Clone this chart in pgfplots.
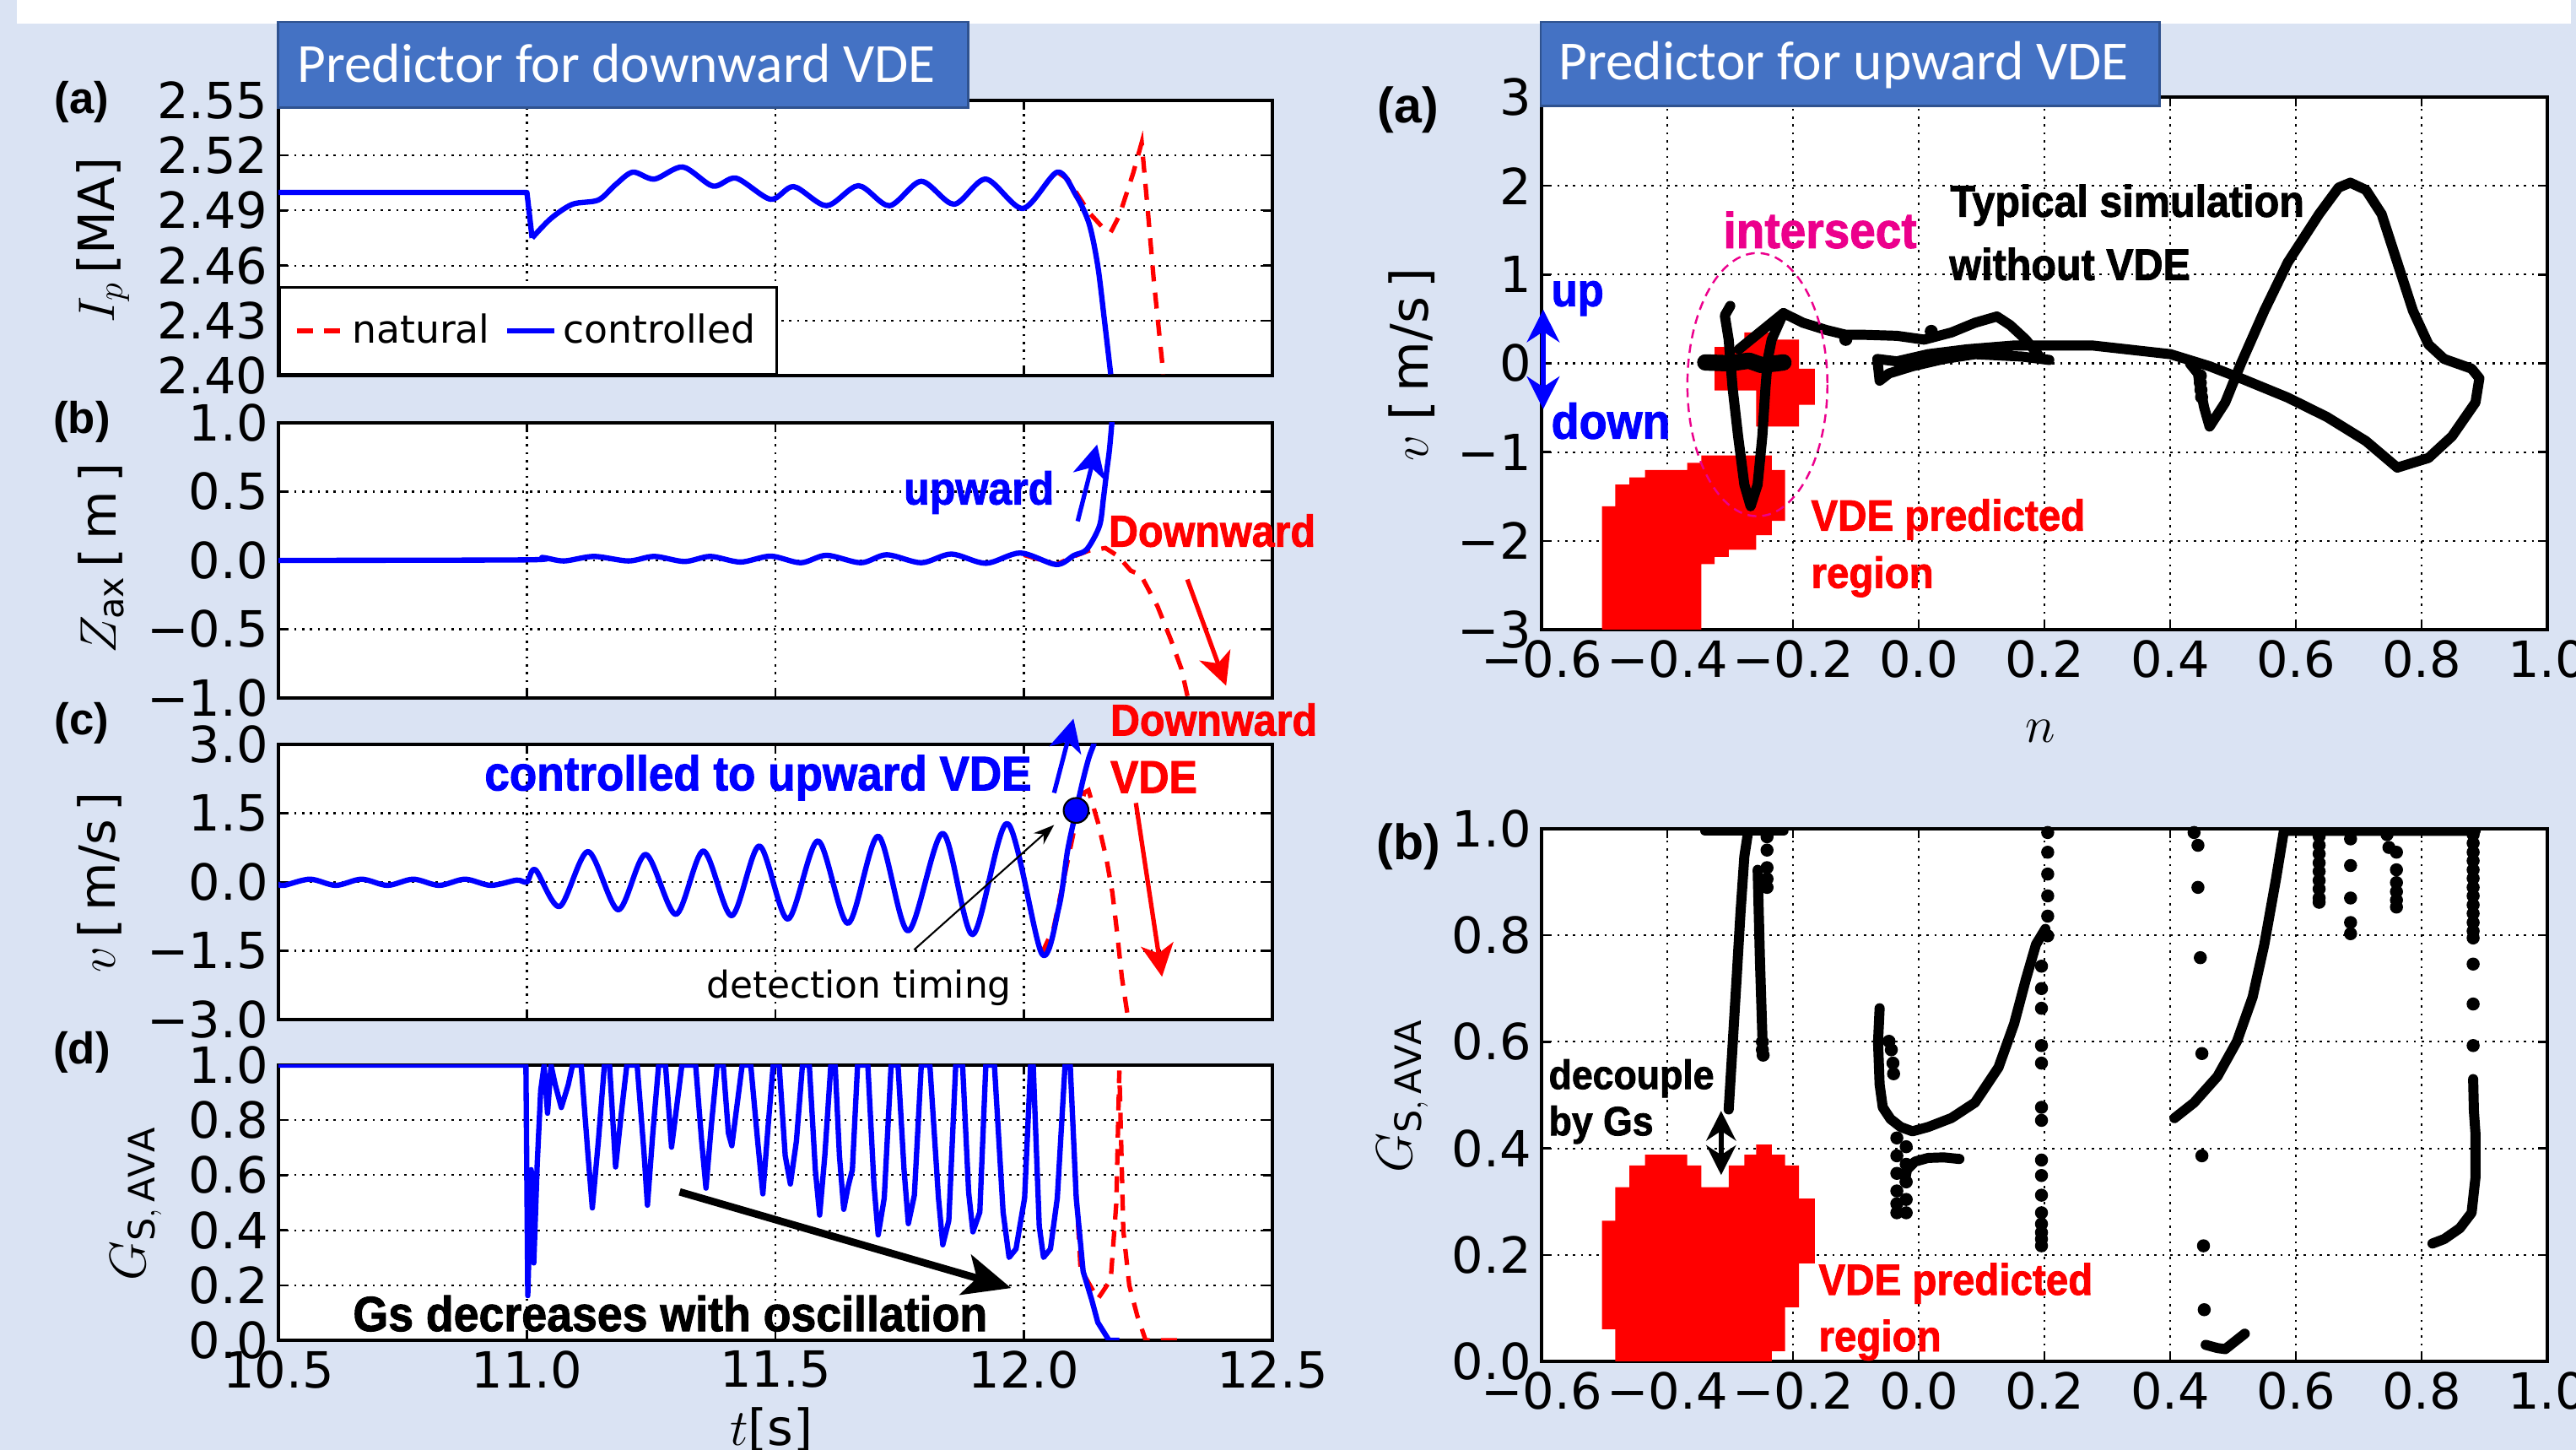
\documentclass[border=0pt]{standalone}
\usepackage{pgfplots}
\pgfplotsset{compat=1.18}
\usetikzlibrary{arrows.meta}
\usepackage{fontspec}
\setmainfont{DejaVu Sans}
\newfontfamily\annot{Liberation Sans Bold}[FakeStretch=0.92, FakeBold=1.6]
\newfontfamily\labf{Liberation Sans Bold}
\newfontfamily\titlefont{Carlito}
\definecolor{bgblue}{HTML}{DAE3F3}
\definecolor{boxblue}{HTML}{4472C4}
\definecolor{boxedge}{HTML}{2F528F}
\newcommand{\fs}[1]{\fontsize{#1}{#1}\selectfont}

\pgfplotsset{
  base/.style={
    scale only axis, anchor=south west,
    axis background/.style={fill=white},
    axis line style={line width=0.9pt},
    tick style={black, line width=0.7pt},
    major tick length=0.11cm,
    tick align=inside,
    grid=major,
    major grid style={black, line width=0.6pt, dash pattern=on 0.75pt off 1.9pt},
    tick label style={font=\fs{16.8}},
  },
  lp/.style={base, width=11.78cm, height=3.26cm,
    xmin=10.5, xmax=12.5, xtick={10.5,11,11.5,12,12.5}, xticklabels={}},
  rp/.style={base, width=11.92cm, height=6.31cm,
    xmin=-0.6, xmax=1.0, xtick={-0.6,-0.4,-0.2,0,0.2,0.4,0.6,0.8,1.0},
    xticklabels={−0.6,−0.4,−0.2,0.0,0.2,0.4,0.6,0.8,1.0}},
  nat/.style={red, line width=1.5pt, dash pattern=on 5.4pt off 3.8pt},
  ctl/.style={blue, line width=1.8pt, line join=round},
  traj/.style={black, line width=3.4pt, line join=round, line cap=round},
  dots/.style={only marks, mark=*, mark size=2pt, black},
}

\begin{document}
\begin{tikzpicture}
\useasboundingbox (0,0) rectangle (30.53,17.18);
\fill[bgblue] (0,0) rectangle (30.53,17.18);
\fill[white] (0.20,16.90) rectangle (30.47,17.18);

% ---------- left (a): plasma current
\begin{axis}[lp, at={(3.30cm,12.73cm)}, ymin=2.40, ymax=2.55,
  ytick={2.40,2.43,2.46,2.49,2.52,2.55},
  yticklabels={2.40,2.43,2.46,2.49,2.52,2.55},
  legend style={at={(0,0)}, anchor=south west, draw=black, line width=0.8pt,
    fill=white, font=\fs{13}, legend columns=2, inner xsep=5pt, inner ysep=7pt,
    /tikz/every even column/.append style={column sep=3pt}},
  legend image code/.code={\draw[#1] (0cm,0cm) -- (0.56cm,0cm);},
]
\addplot[nat] coordinates {(12.0672,2.5109) (12.0880,2.5071) (12.1313,2.4888)
  (12.1573,2.4811) (12.1747,2.4781) (12.192,2.4872) (12.2197,2.5102)
  (12.237,2.5270) (12.2492,2.4903) (12.2613,2.4521) (12.2786,2.4062) (12.2803,2.4007)};
\addlegendentry{natural}
\addplot[ctl] coordinates {(10.5,2.4998) (11.0,2.4998) (11.0104,2.475)};
\addlegendentry{controlled}
\addplot[ctl, smooth, forget plot] coordinates {(11.0104,2.475) (11.0485,2.4857)
  (11.0918,2.4934) (11.1437,2.4957) (11.1784,2.5041) (11.2131,2.5109)
  (11.2564,2.5071) (11.3136,2.5137) (11.3742,2.5033) (11.421,2.5076)
  (11.4903,2.4961) (11.537,2.5030) (11.6029,2.4926) (11.667,2.5035)
  (11.7293,2.4926) (11.7934,2.5059) (11.8593,2.4934) (11.9234,2.5071)
  (11.9979,2.4911) (12.0672,2.5109) (12.1053,2.4980) (12.1313,2.4827)
  (12.1487,2.4597) (12.1625,2.4291) (12.1747,2.4007)};
\end{axis}

% ---------- left (b): Z_ax
\begin{axis}[lp, at={(3.30cm,8.91cm)}, ymin=-1, ymax=1,
  ytick={-1,-0.5,0,0.5,1}, yticklabels={−1.0,−0.5,0.0,0.5,1.0}]
\addplot[nat] coordinates {(12.0,0.04) (12.065,-0.03) (12.101,0.03) (12.13,0.07)
  (12.164,0.09) (12.19,0.03) (12.215,-0.075) (12.235,-0.105) (12.269,-0.335)
  (12.296,-0.58) (12.317,-0.79) (12.33,-1.0)};
\addplot[ctl, smooth] coordinates {(10.5,0) (11.0,0.004) (11.0311,0.021)
  (11.0745,-0.004) (11.135,0.029) (11.2043,-0.004) (11.2563,0.029)
  (11.317,-0.008) (11.369,0.029) (11.4296,-0.012) (11.4903,0.031)
  (11.551,-0.017) (11.6029,0.037) (11.672,-0.017) (11.7241,0.041)
  (11.7934,-0.017) (11.8541,0.046) (11.9234,-0.021) (11.9927,0.054)
  (12.065,-0.03) (12.101,0.037) (12.1265,0.08) (12.152,0.25) (12.160,0.45)
  (12.167,0.66) (12.172,0.80) (12.177,1.0) (12.178,1.05)};
\end{axis}

% ---------- left (c): v
\begin{axis}[lp, at={(3.30cm,5.10cm)}, ymin=-3, ymax=3,
  ytick={-3,-1.5,0,1.5,3}, yticklabels={−3.0,−1.5,0.0,1.5,3.0}]
\addplot[nat] coordinates {(12.036,-1.564) (12.06,-1.0) (12.085,0.3) (12.108,1.5)
  (12.122,1.95) (12.13,2.0) (12.149,1.30) (12.166,0.51) (12.178,-0.23)
  (12.188,-1.15) (12.197,-2.07) (12.209,-2.93) (12.21,-3.0)};
\addplot[ctl, smooth] coordinates {(10.4976,-0.04) (10.5114,-0.074) (10.5634,0.061)
  (10.6154,-0.074) (10.6673,0.061) (10.7193,-0.074) (10.7713,0.061)
  (10.8233,-0.074) (10.8753,0.061) (10.9272,-0.074) (10.9792,0.04) (11.0,0.0)
  (11.0173,0.264) (11.0659,-0.534) (11.123,0.663) (11.1837,-0.607)
  (11.239,0.601) (11.2997,-0.706) (11.355,0.675) (11.412,-0.736)
  (11.4677,0.785) (11.525,-0.810) (11.5856,0.896) (11.646,-0.902)
  (11.7068,1.0) (11.767,-1.067) (11.8367,1.061) (11.897,-1.147)
  (11.9667,1.276) (12.036,-1.564) (12.0707,-0.534) (12.088,0.693)
  (12.1053,1.564) (12.119,2.227) (12.131,2.718) (12.14,2.98) (12.142,3.1)};
\addplot[only marks, mark=*, mark size=4.2pt,
  mark options={fill=blue, draw=black, line width=0.6pt}] coordinates {(12.105,1.56)};
\end{axis}

% ---------- left (d): G_S,AVA
\begin{axis}[lp, at={(3.30cm,1.30cm)}, ymin=0, ymax=1,
  ytick={0,0.2,0.4,0.6,0.8,1.0}, yticklabels={0.0,0.2,0.4,0.6,0.8,1.0},
  xticklabels={10.5,11.0,11.5,12.0,12.5}]
\addplot[nat] coordinates {(12.0828,1.0) (12.0932,1.0) (12.105,0.55) (12.114,0.26)
  (12.1487,0.15) (12.1747,0.22) (12.186,0.5) (12.192,0.98) (12.196,0.7)
  (12.200,0.4) (12.212,0.2) (12.228,0.09) (12.245,0.0) (12.33,0.0)};
\addplot[ctl] coordinates {(10.5,1.0) (10.998,1.0) (11.0017,0.162) (11.0086,0.620)
  (11.0138,0.281) (11.0207,0.640) (11.0277,0.908) (11.0346,1.0) (11.0415,0.825)
  (11.0485,1.0) (11.0571,0.928) (11.0692,0.846) (11.0831,0.928) (11.0918,1.0)
  (11.1091,1.0) (11.123,0.671) (11.1316,0.481) (11.1437,0.723) (11.1559,1.0)
  (11.1663,1.0) (11.1784,0.630) (11.1906,0.836) (11.201,1.0) (11.2218,1.0)
  (11.2356,0.681) (11.2425,0.491) (11.2529,0.743) (11.265,1.0) (11.2789,1.0)
  (11.291,0.702) (11.2997,0.825) (11.3118,1.0) (11.3395,1.0) (11.3516,0.723)
  (11.3603,0.553) (11.3707,0.774) (11.3828,1.0) (11.395,1.0) (11.4054,0.753)
  (11.4123,0.707) (11.4244,0.877) (11.4331,1.0) (11.4504,1.0) (11.4643,0.723)
  (11.4747,0.532) (11.4851,0.774) (11.4955,1.0) (11.5076,1.0) (11.5197,0.671)
  (11.5301,0.568) (11.5422,0.723) (11.5544,1.0) (11.5682,1.0) (11.5803,0.620)
  (11.589,0.455) (11.5994,0.671) (11.6115,1.0) (11.6202,1.0) (11.6288,0.671)
  (11.6375,0.476) (11.6462,0.558) (11.6549,0.620) (11.6653,1.0) (11.686,1.0)
  (11.6982,0.568) (11.7068,0.383) (11.719,0.517) (11.7328,1.0) (11.7467,1.0)
  (11.7588,0.620) (11.7675,0.424) (11.7796,0.527) (11.7935,1.0) (11.8108,1.0)
  (11.8281,0.517) (11.8368,0.347) (11.8489,0.435) (11.8628,1.0) (11.8766,1.0)
  (11.8888,0.538) (11.8974,0.394) (11.9113,0.466) (11.9234,1.0) (11.9407,1.0)
  (11.9581,0.466) (11.9702,0.301) (11.9841,0.332) (12.0014,0.517) (12.0135,1.0)
  (12.0187,1.0) (12.0309,0.414) (12.0395,0.301) (12.0534,0.332) (12.0672,0.517)
  (12.0828,1.0) (12.0932,1.0) (12.1053,0.517) (12.1192,0.250) (12.1365,0.147)
  (12.1487,0.065) (12.1712,0.0) (12.192,0.0)};
\end{axis}

% ---------- right (a): v vs n
\begin{axis}[rp, at={(18.27cm,9.72cm)}, ymin=-3, ymax=3,
  ytick={-3,-2,-1,0,1,2,3}, yticklabels={−3,−2,−1,0,1,2,3}]
\addplot[fill=red, draw=none] coordinates {(-0.3247,-0.305) (-0.3247,0.185)
  (-0.2774,0.185) (-0.2774,0.348) (-0.2339,0.348) (-0.2339,0.267)
  (-0.1903,0.267) (-0.1903,-0.060) (-0.1654,-0.060) (-0.1654,-0.468)
  (-0.1903,-0.468) (-0.1903,-0.713) (-0.2587,-0.713) (-0.2587,-0.305)} -- cycle;
\addplot[fill=red, draw=none] coordinates {(-0.5038,-3) (-0.5038,-1.610)
  (-0.4826,-1.610) (-0.4826,-1.366) (-0.4603,-1.366) (-0.4603,-1.284)
  (-0.4354,-1.284) (-0.4354,-1.202) (-0.3682,-1.202) (-0.3682,-1.121)
  (-0.3458,-1.121) (-0.3458,-1.039) (-0.2339,-1.039) (-0.2339,-1.202)
  (-0.2127,-1.202) (-0.2127,-1.774) (-0.2339,-1.774) (-0.2339,-1.937)
  (-0.2587,-1.937) (-0.2587,-2.100) (-0.3023,-2.100) (-0.3023,-2.182)
  (-0.3247,-2.182) (-0.3247,-2.263) (-0.3458,-2.263) (-0.3458,-3)} -- cycle;
\addplot[traj, line width=5.5pt] coordinates {(-0.3396,0.01) (-0.30,0.0) (-0.27,0.03)
  (-0.25,-0.02) (-0.2152,0.01)};
\addplot[traj] coordinates {(-0.2861,0.158) (-0.2152,0.566)};
\addplot[traj] coordinates {(-0.2998,0.647) (-0.3085,0.539) (-0.3023,0.267)
  (-0.2961,-0.277) (-0.2873,-0.822) (-0.2774,-1.366) (-0.2674,-1.610)
  (-0.2563,-1.366) (-0.2488,-0.822) (-0.2438,-0.277) (-0.2401,0.049)
  (-0.2339,0.267) (-0.2152,0.566) (-0.1841,0.457) (-0.1468,0.375)
  (-0.1157,0.321) (-0.0846,0.321) (-0.0348,0.310) (0.0087,0.267)
  (0.0522,0.348) (0.0896,0.457) (0.1244,0.528) (0.1455,0.430) (0.1704,0.267)
  (0.1953,0.049) (0.2077,0.038) (0.1642,0.076) (0.0896,0.103) (0.0398,0.049)
  (-0.0100,-0.033) (-0.0473,-0.114) (-0.0622,-0.196) (-0.0659,0.049)
  (-0.0348,0.022) (0.0149,0.103) (0.0771,0.158) (0.1518,0.201) (0.2762,0.201)
  (0.4005,0.103) (0.4627,-0.033) (0.5125,-0.169) (0.5871,-0.386)
  (0.6493,-0.604) (0.7115,-0.876) (0.7613,-1.175) (0.8110,-1.066)
  (0.8484,-0.822) (0.8857,-0.441) (0.8919,-0.169) (0.8795,-0.060)
  (0.8359,0.049) (0.8110,0.212) (0.7862,0.593) (0.7613,1.137) (0.7364,1.681)
  (0.7115,1.953) (0.6866,2.035) (0.6680,1.980) (0.6369,1.681) (0.5871,1.137)
  (0.5498,0.593) (0.5125,-0.005) (0.4876,-0.441) (0.4627,-0.713)
  (0.4540,-0.495) (0.4478,-0.277) (0.4441,-0.114) (0.4316,-0.005)};
\addplot[dots] coordinates {(0.448,-0.14) (0.448,-0.22) (0.449,-0.30) (0.450,-0.38)
  (-0.116,0.27) (0.020,0.36)};
\end{axis}

% ---------- right (b): G vs n
\begin{axis}[rp, at={(18.27cm,1.05cm)}, ymin=0, ymax=1,
  ytick={0,0.2,0.4,0.6,0.8,1.0}, yticklabels={0.0,0.2,0.4,0.6,0.8,1.0}]
\addplot[fill=red, draw=none] coordinates {(-0.5038,0.0603) (-0.5038,0.2642)
  (-0.4826,0.2642) (-0.4826,0.327) (-0.4603,0.327) (-0.4603,0.368)
  (-0.4354,0.368) (-0.4354,0.388) (-0.3682,0.388) (-0.3682,0.368)
  (-0.3458,0.368) (-0.3458,0.327) (-0.3023,0.327) (-0.3023,0.368)
  (-0.2774,0.368) (-0.2774,0.388) (-0.2587,0.388) (-0.2587,0.407)
  (-0.2339,0.407) (-0.2339,0.388) (-0.2127,0.388) (-0.2127,0.368)
  (-0.1903,0.368) (-0.1903,0.3055) (-0.1654,0.3055) (-0.1654,0.184)
  (-0.1903,0.184) (-0.1903,0.1016) (-0.2127,0.1016) (-0.2127,0.019)
  (-0.2339,0.019) (-0.2339,0) (-0.4826,0) (-0.4826,0.0603)} -- cycle;
\addplot[traj] coordinates {(-0.3023,0.473) (-0.2961,0.593)
  (-0.2898,0.717) (-0.2836,0.841) (-0.2774,0.948) (-0.2712,0.996)};
\addplot[traj] coordinates {(-0.3396,0.996) (-0.2152,0.996)};
\addplot[traj] coordinates {(-0.2562,0.923) (-0.2525,0.75) (-0.2487,0.61)};
\addplot[traj] coordinates {(-0.0622,0.663) (-0.0647,0.60)
  (-0.0622,0.52) (-0.0572,0.477) (-0.0448,0.455) (-0.0286,0.440)
  (-0.0100,0.432) (0.0149,0.440) (0.0522,0.457) (0.0896,0.486) (0.1269,0.552)
  (0.1518,0.634) (0.1704,0.717) (0.1866,0.783) (0.2015,0.812)};
\addplot[traj] coordinates {(-0.0224,0.337) (-0.0186,0.36)
  (-0.0062,0.375) (0.0149,0.382) (0.0398,0.383) (0.0647,0.380)};
\addplot[traj] coordinates {(0.4068,0.4567) (0.4379,0.4856)
  (0.4752,0.535) (0.5063,0.601) (0.5312,0.684) (0.5498,0.783) (0.5685,0.9067)
  (0.5809,0.996) (0.886,0.996)};
\addplot[traj] coordinates {(0.882,0.53) (0.8832,0.47)
  (0.8857,0.428) (0.8857,0.345) (0.8795,0.279) (0.8608,0.250) (0.8359,0.2296)
  (0.8173,0.2213)};
\addplot[traj] coordinates {(0.4565,0.031) (0.4752,0.025)
  (0.4876,0.023) (0.5187,0.052)};
\addplot[dots] coordinates {
  (-0.2413,0.985) (-0.2413,0.960) (-0.2413,0.927) (-0.2413,0.906) (-0.2413,0.890)
  (-0.2487,0.60) (-0.2487,0.585) (-0.2475,0.575)
  (-0.0473,0.601) (-0.0436,0.585) (-0.0410,0.560) (-0.0400,0.54)
  (-0.0348,0.4195) (-0.0348,0.386) (-0.0348,0.353) (-0.0348,0.320) (-0.0348,0.296) (-0.0348,0.279)
  (-0.0199,0.403) (-0.0199,0.370) (-0.0199,0.337) (-0.0199,0.304) (-0.0199,0.279)
  (0.2052,0.993) (0.2052,0.956) (0.2052,0.915) (0.2052,0.874) (0.2052,0.836) (0.2052,0.799)
  (0.1953,0.742) (0.1953,0.700) (0.1953,0.663) (0.1953,0.593) (0.1953,0.560)
  (0.1953,0.477) (0.1953,0.4525) (0.1953,0.378) (0.1953,0.349) (0.1953,0.312)
  (0.1953,0.279) (0.1953,0.258) (0.1953,0.242) (0.1953,0.2296) (0.1953,0.217)
  (0.4380,0.993) (0.4442,0.969) (0.4442,0.890) (0.4480,0.758) (0.4505,0.578)
  (0.4505,0.386) (0.4530,0.217) (0.4542,0.097)
  (0.637,0.986) (0.637,0.969) (0.637,0.953) (0.637,0.936) (0.637,0.920)
  (0.637,0.903) (0.637,0.887) (0.637,0.870) (0.637,0.862)
  (0.687,0.981) (0.687,0.931) (0.687,0.870) (0.687,0.824) (0.687,0.803)
  (0.745,0.989) (0.748,0.965) (0.760,0.956) (0.760,0.923) (0.760,0.899)
  (0.760,0.882) (0.760,0.866) (0.760,0.853)
  (0.882,0.989) (0.882,0.973) (0.882,0.956) (0.882,0.940) (0.882,0.923)
  (0.882,0.907) (0.882,0.890) (0.882,0.874) (0.882,0.857) (0.882,0.841)
  (0.882,0.824) (0.882,0.808) (0.882,0.795) (0.882,0.746) (0.882,0.671) (0.882,0.593)};
\end{axis}

% ---------- annotations, in pixel units of the reference
\begin{scope}[shift={(0cm,17.18cm)}, x=0.01cm, y=-0.01cm]
\filldraw[fill=boxblue, draw=boxedge, line width=0.8pt] (330,26) rectangle (1148,128);
\node[anchor=base west, text=white, font=\titlefont\fs{18.6}, inner sep=0] at (352,98) {Predictor for downward VDE};
\filldraw[fill=boxblue, draw=boxedge, line width=0.8pt] (1827,26) rectangle (2561,126);
\node[anchor=base west, text=white, font=\titlefont\fs{18.6}, inner sep=0] at (1848,95) {Predictor for upward VDE};

\node[font=\labf\fs{15}] at (97,121) {(a)};
\node[font=\labf\fs{15}] at (97,500) {(b)};
\node[font=\labf\fs{15}] at (97,857) {(c)};
\node[font=\labf\fs{15}] at (97,1248) {(d)};
\node[font=\labf\fs{16.8}] at (1670,130) {(a)};
\node[font=\labf\fs{16.8}] at (1670,1004) {(b)};

\node[rotate=90, font=\fs{16.8}] at (122,285) {$I_p$\,[MA]};
\node[rotate=90, font=\fs{16.8}] at (120,662) {$Z_{\mathrm{ax}}$\,[\,m\,]};
\node[rotate=90, font=\fs{16.8}] at (118,1046) {$v$\,[\,m/s\,]};
\node[rotate=90, font=\fs{17.5}] at (161,1427) {$G_{\mathrm{S,\,AVA}}$};
\node[font=\fs{16.8}] at (915,1695) {$t$[s]};
\node[rotate=90, font=\fs{17.5}] at (1674,432) {$v$\;[\,m/s\,]};
\node[font=\fs{17.5}] at (2420,867) {$n$};
\node[rotate=90, font=\fs{17.5}] at (1663,1299) {$G_{\mathrm{S,\,AVA}}$};

% left annotations
\node[anchor=base west, inner sep=0, text=blue, font=\annot\fs{15.5}] at (1071,598) {upward};
\node[anchor=base west, inner sep=0, text=red, font=\annot\fs{15}] at (1314,648) {Downward};
\node[anchor=base west, inner sep=0, text=red, font=\annot\fs{15}] at (1316,872) {Downward};
\node[anchor=base west, inner sep=0, text=red, font=\annot\fs{15.5}] at (1316,940) {VDE};
\node[anchor=base west, inner sep=0, text=blue, font=\annot\fs{16.4}] at (574,937) {controlled to upward VDE};
\node[anchor=base west, inner sep=0, font=\fs{12.5}] at (837,1183) {detection timing};
\node[anchor=base west, inner sep=0, font=\annot\fs{16.6}] at (418,1578) {Gs decreases with oscillation};
\draw[red, line width=1.5pt, -{Stealth[length=11pt, width=11pt, inset=3pt]}] (1408,687) -- (1454,813);
\draw[blue, line width=1.5pt, -{Stealth[length=11pt, width=11pt, inset=3pt]}] (1278,618) -- (1301,527);
\draw[blue, line width=1.5pt, -{Stealth[length=11pt, width=11pt, inset=3pt]}] (1250,940) -- (1273,852);
\draw[red, line width=1.5pt, -{Stealth[length=11pt, width=11pt, inset=3pt]}] (1347,952) -- (1378,1158);
\draw[black, line width=0.6pt, -{Stealth[length=7pt, width=5pt]}] (1084,1126) -- (1250,978);
\draw[black, line width=2.5pt, -{Stealth[length=16pt, width=14pt, inset=4pt]}] (806,1413) -- (1199,1527);

% right annotations
\draw[magenta, line width=0.7pt, dash pattern=on 3pt off 2pt] (2084,456) ellipse [x radius=83, y radius=156];
\draw[blue, line width=1.6pt, {Stealth[length=11pt, width=11pt]}-{Stealth[length=11pt, width=11pt]}] (1830,367) -- (1830,485);
\draw[black, line width=1.6pt, {Stealth[length=10pt, width=10pt]}-{Stealth[length=10pt, width=10pt]}] (2041,1317) -- (2041,1393);
\node[anchor=base west, inner sep=0, text=blue, font=\annot\fs{15.7}] at (1839,363) {up};
\node[anchor=base west, inner sep=0, text=blue, font=\annot\fs{16.7}] at (1839,520) {down};
\node[anchor=base west, inner sep=0, text=magenta, font=\annot\fs{17}] at (2043,294) {intersect};
\node[anchor=base west, inner sep=0, font=\annot\fs{15}] at (2312,257) {Typical simulation};
\node[anchor=base west, inner sep=0, font=\annot\fs{15}] at (2311,332) {without VDE};
\node[anchor=base west, inner sep=0, text=red, font=\annot\fs{14.7}] at (2147,629) {VDE predicted};
\node[anchor=base west, inner sep=0, text=red, font=\annot\fs{14.7}] at (2147,697) {region};
\node[anchor=base west, inner sep=0, font=\annot\fs{13.8}] at (1836,1291) {decouple};
\node[anchor=base west, inner sep=0, font=\annot\fs{13.8}] at (1836,1346) {by Gs};
\node[anchor=base west, inner sep=0, text=red, font=\annot\fs{14.7}] at (2156,1535) {VDE predicted};
\node[anchor=base west, inner sep=0, text=red, font=\annot\fs{14.7}] at (2156,1602) {region};
\end{scope}
\end{tikzpicture}
\end{document}
